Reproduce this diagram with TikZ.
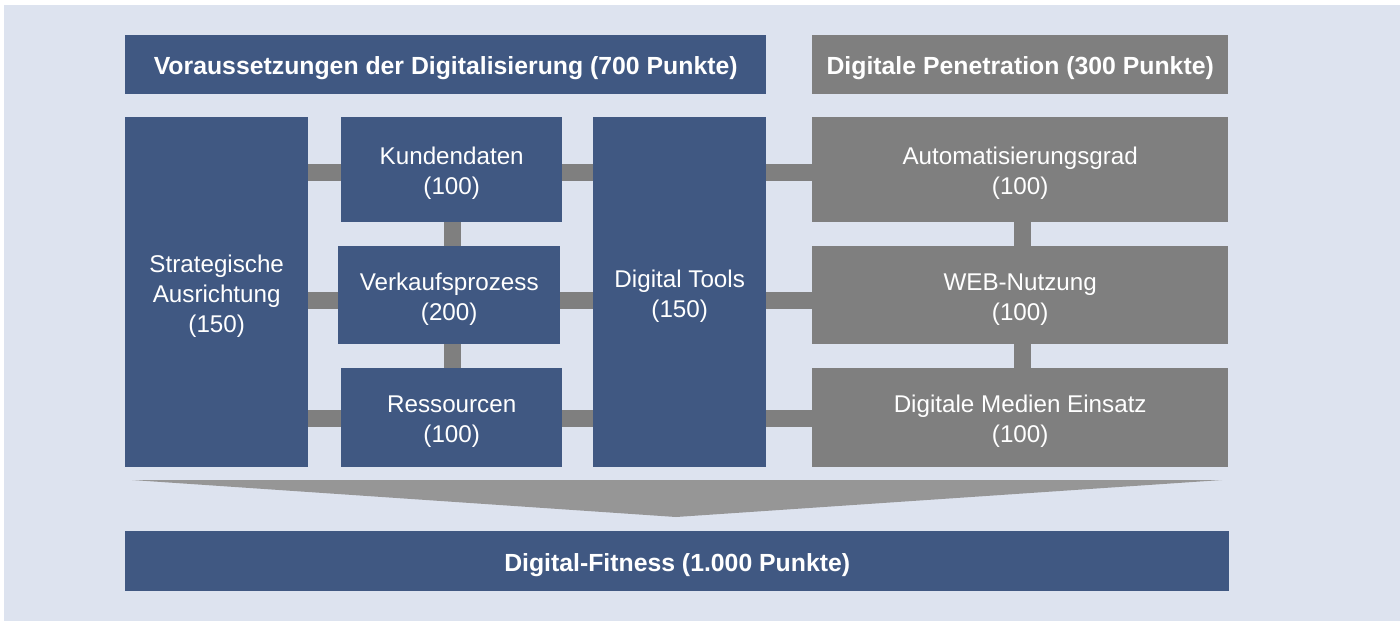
\documentclass[tikz,border=0pt]{standalone}
\usepackage{fontspec}
\setmainfont{Liberation Sans}
\definecolor{bgc}{RGB}{221,227,239}
\definecolor{bluec}{RGB}{64,88,130}
\definecolor{grayc}{RGB}{127,127,127}
\definecolor{trig}{RGB}{150,150,150}
\begin{document}
\begin{tikzpicture}[x=1pt,y=-1pt,
  box/.style={draw=none, inner sep=0pt, anchor=north west, text=white, align=center,
    font=\fontsize{24.2}{30}\selectfont},
  bbox/.style={box, fill=bluec},
  gbox/.style={box, fill=grayc},
  twoline/.style={text height=55.5pt},
  threeline/.style={text height=85.5pt},
  head/.style={text height=25pt, font=\bfseries\fontsize{24.8}{30}\selectfont},
  bar/.style={draw=grayc, line width=17pt}]
\useasboundingbox (0,0) rectangle (1400,621);
\fill[white] (0,0) rectangle (1400,621);
\fill[bgc] (4,5) rectangle (1400,621);
% headers
\node[bbox, head, minimum width=641pt, minimum height=59pt] (h1) at (125,35) {Voraussetzungen der Digitalisierung (700 Punkte)};
\node[gbox, head, minimum width=416pt, minimum height=59pt] (h2) at (812,35) {Digitale Penetration (300 Punkte)};
% blue boxes
\node[bbox, threeline, minimum width=183pt, minimum height=350pt] (strat) at (125,117) {Strategische\\Ausrichtung\\(150)};
\node[bbox, twoline, minimum width=221pt, minimum height=105pt] (kd) at (341,117) {Kundendaten\\(100)};
\node[bbox, twoline, minimum width=222pt, minimum height=98pt] (vk) at (338,246) {Verkaufsprozess\\(200)};
\node[bbox, twoline, minimum width=221pt, minimum height=99pt] (rs) at (341,368) {Ressourcen\\(100)};
\node[bbox, twoline, minimum width=173pt, minimum height=350pt] (dt) at (593,117) {Digital Tools\\(150)};
% gray boxes
\node[gbox, twoline, minimum width=416pt, minimum height=105pt] (ag) at (812,117) {Automatisierungsgrad\\(100)};
\node[gbox, twoline, minimum width=416pt, minimum height=98pt] (wn) at (812,246) {WEB-Nutzung\\(100)};
\node[gbox, twoline, minimum width=416pt, minimum height=99pt] (dm) at (812,368) {Digitale Medien Einsatz\\(100)};
% bottom
\node[bbox, head, minimum width=1104pt, minimum height=60pt] (fit) at (125,531) {Digital-Fitness (1.000 Punkte)};
% horizontal bars
\draw[bar] (strat.east |- 0,172) -- (kd.west |- 0,172);
\draw[bar] (kd.east |- 0,172) -- (dt.west |- 0,172);
\draw[bar] (dt.east |- 0,172) -- (ag.west |- 0,172);
\draw[bar] (strat.east |- 0,300) -- (vk.west |- 0,300);
\draw[bar] (vk.east |- 0,300) -- (dt.west |- 0,300);
\draw[bar] (dt.east |- 0,300) -- (wn.west |- 0,300);
\draw[bar] (strat.east |- 0,418) -- (rs.west |- 0,418);
\draw[bar] (rs.east |- 0,418) -- (dt.west |- 0,418);
\draw[bar] (dt.east |- 0,418) -- (dm.west |- 0,418);
% vertical bars
\draw[bar] (kd.south -| 452,0) -- (vk.north -| 452,0);
\draw[bar] (vk.south -| 452,0) -- (rs.north -| 452,0);
\draw[bar] (ag.south -| 1022,0) -- (wn.north -| 1022,0);
\draw[bar] (wn.south -| 1022,0) -- (dm.north -| 1022,0);
% funnel triangle
\fill[trig] (132,480) -- (1222,480) -- (676,517) -- cycle;
\end{tikzpicture}
\end{document}
